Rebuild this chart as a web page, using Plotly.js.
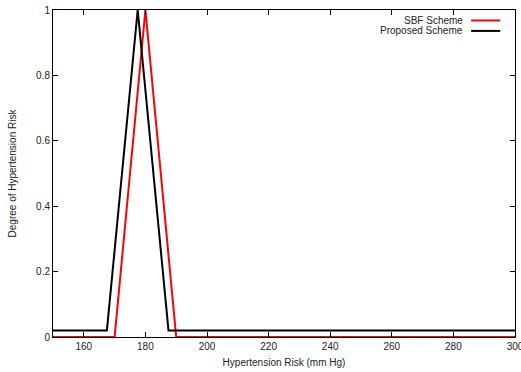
<!DOCTYPE html>
<html><head><meta charset="utf-8">
<script src="https://cdn.plot.ly/plotly-3.0.1.min.js"></script>
<style>body{margin:0;padding:0;background:#fff}#c{width:521px;height:372px}</style>
</head><body><div id="c"></div>
<script>
const sbfX = [150, 170, 180, 190, 300];
const sbfY = [0, 0, 1, 0, 0];
const propX = [150, 167.5, 177.5, 187.5, 300];
const propY = [0.02, 0.02, 1, 0.02, 0.02];
const seriesNames = ["SBF Scheme", "Proposed Scheme"];
const xTicks = [160, 180, 200, 220, 240, 260, 280, 300];
const yTicks = [0, 0.2, 0.4, 0.6, 0.8, 1];
const yTickText = ["0", "0.2", "0.4", "0.6", "0.8", "1"];

const fontFam = "Liberation Sans, Arial, sans-serif";
const traces = [
  {x: sbfX, y: sbfY, mode: "lines", name: seriesNames[0], line: {color: "#ff0000", width: 2}},
  {x: propX, y: propY, mode: "lines", name: seriesNames[1], line: {color: "#000000", width: 2}}
];
const axBase = {showgrid: false, zeroline: false, showline: true, linecolor: "#000", linewidth: 1,
  mirror: "ticks", ticks: "inside", ticklen: 5, tickcolor: "#000", ticklabeloverflow: "allow",
  tickfont: {family: fontFam, size: 10, color: "#222"}};
const layout = {
  width: 521, height: 372,
  margin: {l: 53, r: 6, t: 10, b: 35},
  paper_bgcolor: "#fff", plot_bgcolor: "#fff",
  showlegend: false,
  font: {family: fontFam, size: 10, color: "#222"},
  xaxis: Object.assign({}, axBase, {range: [150, 300], tickvals: xTicks, ticktext: xTicks.map(String),
    title: {text: "Hypertension Risk (mm Hg)", font: {family: fontFam, size: 10, color: "#222"}, standoff: 7}}),
  yaxis: Object.assign({}, axBase, {range: [0, 1], tickvals: yTicks, ticktext: yTickText,
    title: {text: "Degree of Hypertension Risk", font: {family: fontFam, size: 10, color: "#222"}, standoff: 17}}),
  annotations: [
    {xref: "paper", yref: "paper", x: 0.892, y: 0.968, xanchor: "right", yanchor: "middle", text: seriesNames[0], showarrow: false, font: {family: fontFam, size: 10, color: "#222"}},
    {xref: "paper", yref: "paper", x: 0.892, y: 0.936, xanchor: "right", yanchor: "middle", text: seriesNames[1], showarrow: false, font: {family: fontFam, size: 10, color: "#222"}}
  ],
  shapes: [
    {type: "line", xref: "paper", yref: "paper", x0: 0.905, x1: 0.968, y0: 0.968, y1: 0.968, line: {color: "#ff0000", width: 2}},
    {type: "line", xref: "paper", yref: "paper", x0: 0.905, x1: 0.968, y0: 0.936, y1: 0.936, line: {color: "#000000", width: 2}}
  ]
};
Plotly.newPlot("c", traces, layout, {displayModeBar: false, staticPlot: true});
</script></body></html>
